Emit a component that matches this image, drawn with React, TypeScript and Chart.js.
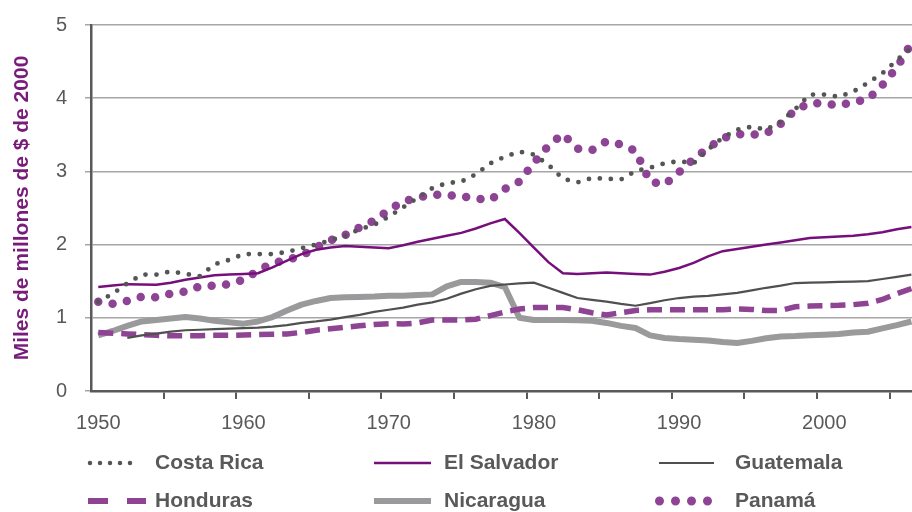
import { useEffect, useRef } from 'react';
import { Chart, registerables } from 'chart.js';

Chart.register(...registerables);

const YEARS = [
  1950, 1951, 1952, 1953, 1954, 1955, 1956, 1957, 1958, 1959,
  1960, 1961, 1962, 1963, 1964, 1965, 1966, 1967, 1968, 1969,
  1970, 1971, 1972, 1973, 1974, 1975, 1976, 1977, 1978, 1979,
  1980, 1981, 1982, 1983, 1984, 1985, 1986, 1987, 1988, 1989,
  1990, 1991, 1992, 1993, 1994, 1995, 1996, 1997, 1998, 1999,
  2000, 2001, 2002, 2003, 2004, 2005, 2006,
];

const COSTA_RICA = [
  1.22, 1.33, 1.47, 1.59, 1.59, 1.635, 1.6, 1.57, 1.73, 1.79,
  1.87, 1.87, 1.87, 1.9, 1.95, 2.0, 2.06, 2.12, 2.21, 2.27,
  2.38, 2.51, 2.64, 2.77, 2.84, 2.86, 2.96, 3.11, 3.2, 3.27,
  3.23, 3.09, 2.9, 2.85, 2.91, 2.9, 2.89, 3.005, 3.05, 3.11,
  3.14, 3.11, 3.3, 3.46, 3.57, 3.61, 3.57, 3.68, 3.85, 4.05,
  4.05, 4.02, 4.09, 4.21, 4.34, 4.52, 4.69,
];

const EL_SALVADOR = [
  1.42, 1.44, 1.46, 1.455, 1.45, 1.48, 1.52, 1.55, 1.58, 1.59,
  1.6, 1.61, 1.69, 1.78, 1.87, 1.93, 1.96, 1.98, 1.97, 1.96,
  1.95, 1.99, 2.04, 2.08, 2.12, 2.16, 2.22, 2.29, 2.35, 2.16,
  1.96, 1.76, 1.61, 1.6, 1.61, 1.62, 1.61, 1.6, 1.59, 1.63,
  1.68, 1.75, 1.84, 1.91, 1.94, 1.97, 2.0, 2.03, 2.06, 2.09,
  2.1, 2.11, 2.12, 2.14, 2.17, 2.21, 2.24,
];

const GUATEMALA = [
  null, null, 0.725, 0.76, 0.785, 0.81, 0.83, 0.837, 0.844, 0.851,
  0.858, 0.865, 0.88, 0.9, 0.93, 0.95, 0.975, 1.01, 1.04, 1.08,
  1.11, 1.14, 1.18, 1.21, 1.26, 1.33, 1.39, 1.435, 1.455, 1.47,
  1.48, 1.41, 1.34, 1.27, 1.245, 1.22, 1.19, 1.165, 1.2, 1.24,
  1.27, 1.29, 1.3, 1.32, 1.34, 1.375, 1.41, 1.44, 1.475, 1.48,
  1.485, 1.49, 1.495, 1.5, 1.53, 1.56, 1.59,
];

const HONDURAS = [
  0.8, 0.79, 0.78, 0.77, 0.76, 0.755, 0.755, 0.755, 0.76, 0.76,
  0.765, 0.77, 0.775, 0.78, 0.8, 0.83, 0.85, 0.87, 0.89, 0.91,
  0.92, 0.915, 0.93, 0.97, 0.97, 0.97, 0.98, 1.03, 1.08, 1.12,
  1.14, 1.14, 1.14, 1.11, 1.07, 1.04, 1.07, 1.1, 1.11, 1.11,
  1.11, 1.11, 1.11, 1.11, 1.12, 1.115, 1.1, 1.1, 1.15, 1.16,
  1.165, 1.17, 1.18, 1.2, 1.25, 1.33, 1.4,
];

const NICARAGUA = [
  0.76, 0.82, 0.89, 0.95, 0.97, 0.99, 1.01, 0.99, 0.96, 0.94,
  0.92, 0.95, 1.01, 1.1, 1.18, 1.23, 1.27, 1.28, 1.285, 1.29,
  1.3, 1.3, 1.31, 1.32, 1.43, 1.49, 1.49, 1.48, 1.42, 1.0,
  0.97, 0.97, 0.97, 0.965, 0.96, 0.93, 0.89, 0.86, 0.76, 0.725,
  0.71, 0.7, 0.69, 0.67, 0.655, 0.685, 0.72, 0.745, 0.75, 0.76,
  0.77, 0.78, 0.8, 0.81, 0.855, 0.9, 0.95,
];

const PANAMA = [
  1.22, 1.19, 1.23, 1.29, 1.28, 1.33, 1.36, 1.43, 1.44, 1.46,
  1.52, 1.645, 1.745, 1.79, 1.85, 1.96, 2.06, 2.13, 2.235, 2.33,
  2.47, 2.59, 2.64, 2.685, 2.675, 2.66, 2.63, 2.61, 2.76, 2.86,
  3.12, 3.35, 3.51, 3.31, 3.29, 3.41, 3.37, 3.28, 2.86, 2.82,
  2.99, 3.17, 3.32, 3.455, 3.51, 3.5, 3.52, 3.65, 3.84, 3.93,
  3.93, 3.9, 3.95, 3.985, 4.18, 4.42, 4.75,
];

const X_LABEL_YEARS = [1950, 1960, 1970, 1980, 1990, 2000];
const X_TICK_MARKS = [1954.5, 1959.5, 1964.5, 1969.5, 1974.5, 1979.5, 1984.5, 1989.5, 1994.5, 1999.5, 2004.5];
const Y_TITLE = 'Miles de millones de $ de 2000';

const FONT = '"Liberation Sans", Arial, Helvetica, sans-serif';
const TEXT_GRAY = '#595959';

const pts = (vals: (number | null)[]) => YEARS.map((year, i) => ({ x: year, y: vals[i] }));

// legend layout: 3 columns x 2 rows
const LEGEND_ROW_Y = [463, 501];
const LEGEND_TEXT_X = [155, 444, 735];
const LEGEND_SYMBOLS = [
  { x: 90, len: 50, dash: [0, 10], width: 4.5 },
  { x: 374, len: 57, dash: [], width: 2.5 },
  { x: 659, len: 55, dash: [], width: 2.2 },
  { x: 88, len: 58, dash: [20, 19], width: 6 },
  { x: 374, len: 57, dash: [], width: 6 },
  { x: 659.5, len: 64, dash: [0, 16], width: 9 },
];

const legendPlugin = {
  id: 'gridLegend',
  afterDraw(chart: any) {
    const ctx = chart.ctx as CanvasRenderingContext2D;
    chart.data.datasets.forEach((ds: any, i: number) => {
      const col = i % 3;
      const row = Math.floor(i / 3);
      const y = LEGEND_ROW_Y[row];
      const s = LEGEND_SYMBOLS[i];
      ctx.save();
      ctx.strokeStyle = ds.borderColor;
      ctx.lineWidth = s.width;
      ctx.lineCap = ds.borderCapStyle || 'butt';
      ctx.setLineDash(s.dash);
      ctx.beginPath();
      ctx.moveTo(s.x, y);
      ctx.lineTo(s.x + s.len, y);
      ctx.stroke();
      ctx.setLineDash([]);
      ctx.fillStyle = TEXT_GRAY;
      ctx.font = `bold 21px ${FONT}`;
      ctx.textAlign = 'left';
      ctx.textBaseline = 'middle';
      ctx.fillText(ds.label, LEGEND_TEXT_X[col], y);
      ctx.restore();
    });
  },
};

export default function App() {
  const ref = useRef<HTMLCanvasElement>(null);

  useEffect(() => {
    document.body.style.margin = '0';
    const canvas = ref.current;
    if (!canvas) return;

    const chart = new Chart(canvas, {
      type: 'line',
      data: {
        datasets: [
          {
            label: 'Costa Rica',
            data: pts(COSTA_RICA),
            borderColor: '#555555',
            borderWidth: 4.8,
            borderDash: [0, 11],
            borderCapStyle: 'round',
            pointRadius: 0,
            tension: 0,
          },
          {
            label: 'El Salvador',
            data: pts(EL_SALVADOR),
            borderColor: '#760F7A',
            borderWidth: 2.5,
            pointRadius: 0,
            tension: 0,
          },
          {
            label: 'Guatemala',
            data: pts(GUATEMALA),
            borderColor: '#505050',
            borderWidth: 2.2,
            pointRadius: 0,
            tension: 0,
          },
          {
            label: 'Honduras',
            data: pts(HONDURAS),
            borderColor: '#8E4393',
            borderWidth: 5.5,
            borderDash: [15, 8],
            pointRadius: 0,
            tension: 0,
          },
          {
            label: 'Nicaragua',
            data: pts(NICARAGUA),
            borderColor: '#9A9A9C',
            borderWidth: 6,
            borderJoinStyle: 'round',
            pointRadius: 0,
            tension: 0,
          },
          {
            label: 'Panamá',
            data: pts(PANAMA),
            borderColor: '#8E4494',
            borderWidth: 8.5,
            borderDash: [0, 14.5],
            borderCapStyle: 'round',
            pointRadius: 0,
            tension: 0,
          },
        ] as any,
      },
      options: {
        responsive: false,
        animation: false,
        layout: { padding: { top: 25, right: 0, left: 0, bottom: 0 } },
        plugins: {
          legend: { display: false },
          tooltip: { enabled: false },
        },
        scales: {
          x: {
            type: 'linear',
            min: 1949.5,
            max: 2006.04,
            afterBuildTicks: (scale: any) => {
              const all = [...X_LABEL_YEARS, ...X_TICK_MARKS].sort((a, b) => a - b);
              scale.ticks = all.map((v) => ({ value: v }));
            },
            afterFit: (scale: any) => {
              scale.height = 121;
              scale.paddingLeft = 0;
              scale.paddingRight = 0;
            },
            border: { color: TEXT_GRAY, width: 2.5 },
            grid: {
              drawOnChartArea: false,
              drawTicks: true,
              tickLength: 8,
              lineWidth: 2,
              tickColor: (c: any) =>
                X_LABEL_YEARS.includes(c.tick?.value) ? 'rgba(0,0,0,0)' : TEXT_GRAY,
            },
            ticks: {
              autoSkip: false,
              maxRotation: 0,
              minRotation: 0,
              padding: 12,
              color: TEXT_GRAY,
              font: { family: FONT, size: 20 },
              callback: (v: any) => (X_LABEL_YEARS.includes(Number(v)) ? String(v) : ''),
            },
          },
          y: {
            type: 'linear',
            min: 0,
            max: 5,
            afterFit: (scale: any) => {
              scale.width = 91;
              scale.paddingTop = 0;
              scale.paddingBottom = 0;
            },
            border: { color: TEXT_GRAY, width: 2.5 },
            grid: {
              color: '#A6A6A6',
              lineWidth: 1.5,
              tickLength: 6,
              drawTicks: true,
            },
            ticks: {
              stepSize: 1,
              padding: 18,
              color: TEXT_GRAY,
              font: { family: FONT, size: 20 },
            },
            title: {
              display: true,
              text: Y_TITLE,
              color: '#771C7B',
              font: { family: FONT, size: 21, weight: 'bold' },
              padding: { top: 10, bottom: 0 },
            },
          },
        },
      } as any,
      plugins: [legendPlugin],
    });

    return () => chart.destroy();
  }, []);

  return (
    <div style={{ width: 912, height: 512 }}>
      <canvas ref={ref} width={912} height={512} style={{ display: 'block' }} />
    </div>
  );
}
